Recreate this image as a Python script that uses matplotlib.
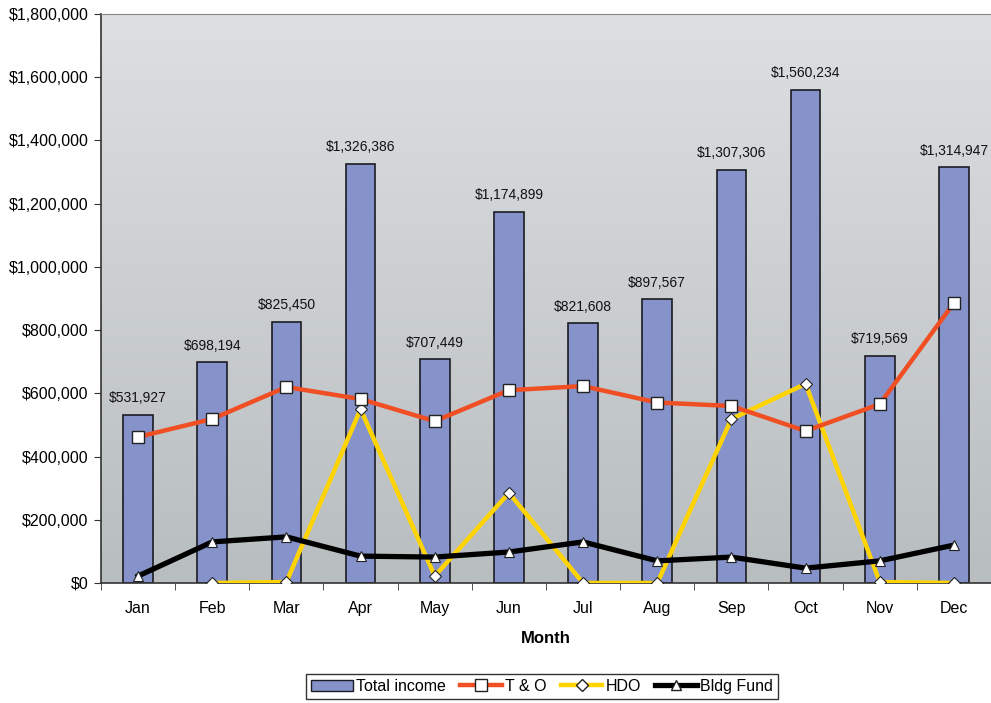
import matplotlib
matplotlib.use("Agg")
import matplotlib.pyplot as plt
from matplotlib.patches import Patch
from matplotlib.lines import Line2D
from matplotlib.ticker import FuncFormatter, MultipleLocator
import numpy as np

plt.rcParams['font.family'] = ['Liberation Sans', 'DejaVu Sans']

months = ["Jan", "Feb", "Mar", "Apr", "May", "Jun", "Jul", "Aug", "Sep", "Oct", "Nov", "Dec"]
total_income = [531927, 698194, 825450, 1326386, 707449, 1174899, 821608, 897567, 1307306, 1560234, 719569, 1314947]
t_and_o = [462000, 519000, 620000, 582000, 512000, 610000, 623000, 571000, 560000, 481000, 566000, 886000]
hdo = [None, 0, 3000, 550000, 22000, 285000, 0, 0, 519000, 630000, 3000, 0]
bldg_fund = [22000, 130000, 146000, 85000, 82000, 98000, 130000, 70000, 82000, 47000, 70000, 120000]

x = np.arange(len(months))
hdo_y = np.array([np.nan if v is None else v for v in hdo], dtype=float)

fig = plt.figure(figsize=(9.91, 7.03), dpi=100)
ax = fig.add_axes([0.1019, 0.1707, 0.8981, 0.8093])

# gradient background
grad = np.linspace(0, 1, 256).reshape(-1, 1)
ax.imshow(grad, extent=[0, 1, 0, 1], transform=ax.transAxes, aspect='auto',
          cmap=matplotlib.colors.LinearSegmentedColormap.from_list("bg", ["#DDE0E3", "#B8BDBF"]),
          zorder=0)

ax.bar(x, total_income, width=0.4, color="#8693CA", edgecolor="#1C1C24", linewidth=1.2, zorder=2)
for xi, v in zip(x, total_income):
    ax.annotate("${:,}".format(v), (xi, v), xytext=(0, 7), textcoords="offset points",
                ha="center", va="bottom", fontsize=10, color="#111111", zorder=5)

ax.plot(x, t_and_o, color="#F04E23", lw=3.2, marker="s", ms=9, mfc="white", mec="#222222", mew=1.0, zorder=4)
ax.plot(x, hdo_y, color="#FFD400", lw=3.2, marker="D", ms=6, mfc="white", mec="#222222", mew=0.8, zorder=3)
ax.plot(x, bldg_fund, color="black", lw=3.8, marker="^", ms=6.5, mfc="white", mec="#222222", mew=0.8, zorder=3)

ax.set_xlim(-0.5, 11.43)
ax.set_ylim(0, 1800000)
ax.yaxis.set_major_locator(MultipleLocator(200000))
ax.yaxis.set_major_formatter(FuncFormatter(lambda v, p: "${:,.0f}".format(v)))
ax.set_xticks(x)
ax.set_xticklabels(months)
ax.set_xticks(np.arange(-0.5, 11.6, 1), minor=True)
ax.tick_params(axis="x", which="major", length=0, pad=13, labelsize=11.5)
ax.tick_params(axis="x", which="minor", length=5, direction="out", color="#333333")
ax.tick_params(axis="y", length=5, direction="out", labelsize=11.5, color="#333333", pad=4)
ax.set_xlabel("Month", fontsize=12, fontweight="bold", labelpad=11)

ax.spines["right"].set_visible(False)
ax.spines["top"].set_color("#888888")
ax.spines["left"].set_color("#333333")
ax.spines["bottom"].set_color("#333333")
ax.spines["left"].set_linewidth(1.2)
ax.spines["bottom"].set_linewidth(1.2)

handles = [
    Patch(facecolor="#8693CA", edgecolor="#1C1C24", linewidth=1.0),
    Line2D([], [], color="#F04E23", lw=3.2, marker="s", ms=9, mfc="white", mec="#222222"),
    Line2D([], [], color="#FFD400", lw=3.2, marker="D", ms=6, mfc="white", mec="#222222"),
    Line2D([], [], color="black", lw=3.8, marker="^", ms=6.5, mfc="white", mec="#222222"),
]
leg = fig.legend(handles, ["Total income", "T & O", "HDO", "Bldg Fund"], loc="center",
                 bbox_to_anchor=(0.547, 0.0235), ncol=4, fontsize=11.5, frameon=True, fancybox=False,
                 handlelength=2.6, handletextpad=0.2, columnspacing=0.9, borderpad=0.3,
                 edgecolor="black")
leg.get_frame().set_linewidth(1.0)

fig.savefig("out.png", dpi=100)
